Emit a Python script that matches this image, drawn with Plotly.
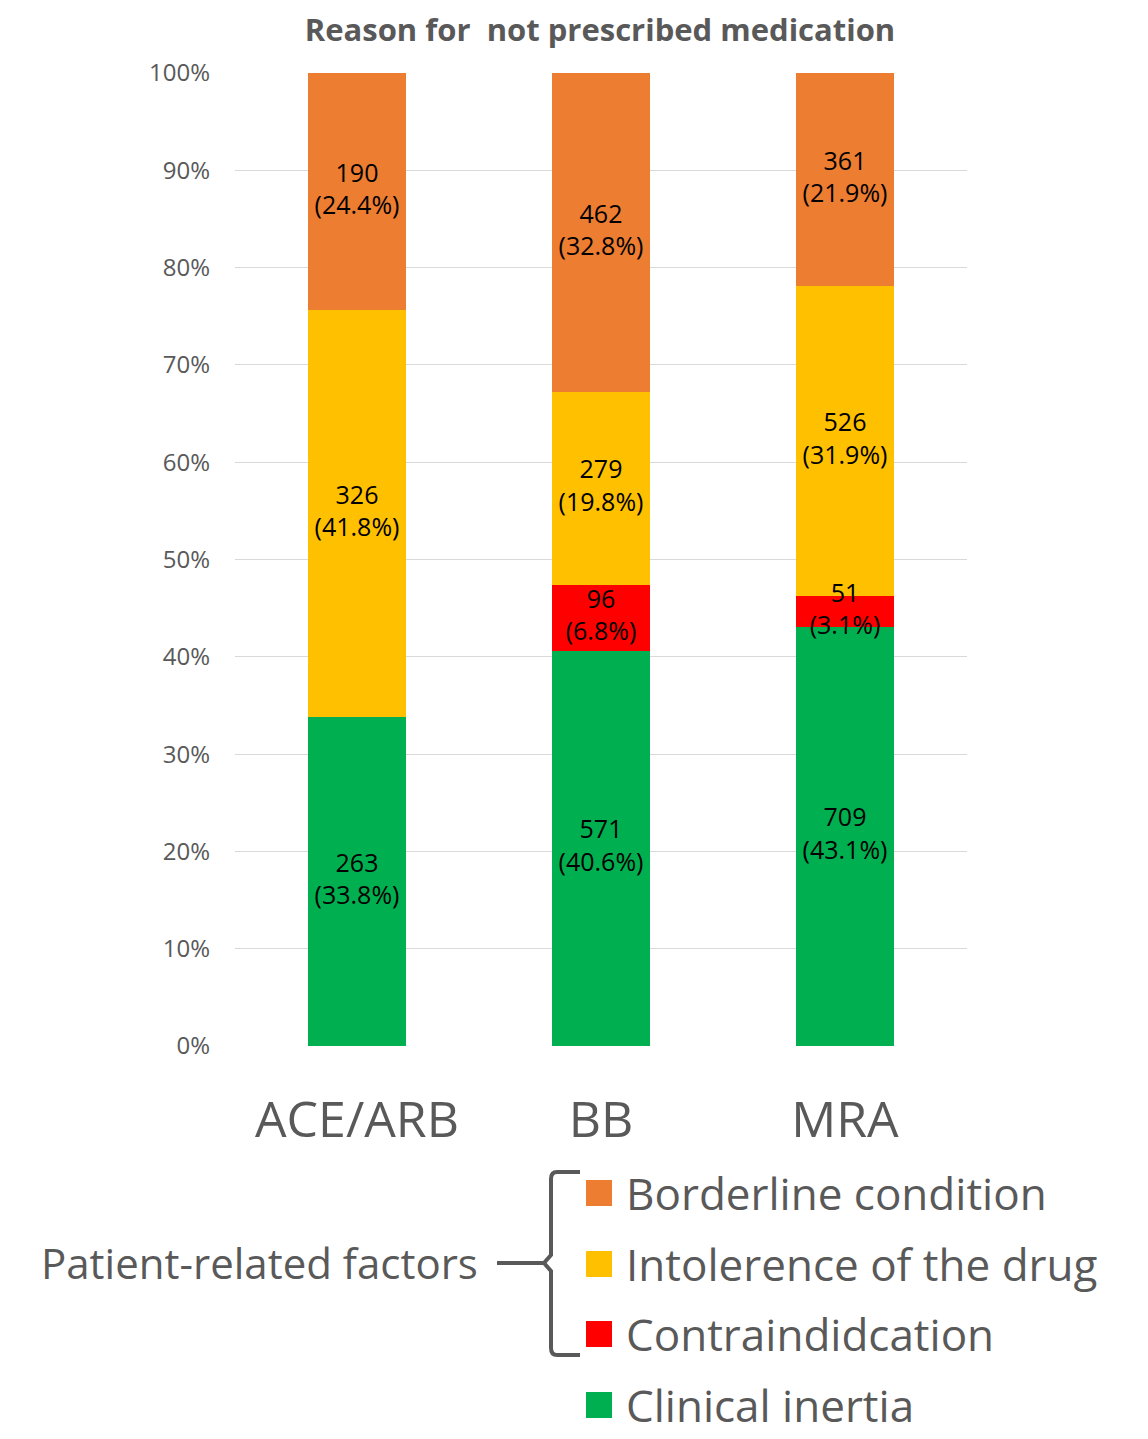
import plotly.graph_objects as go
import numpy as np

categories = ["ACE/ARB", "BB", "MRA"]
series_names = ["Clinical inertia", "Contraindidcation", "Intolerence of the drug", "Borderline condition"]
counts = {
    "Clinical inertia": [263, 571, 709],
    "Contraindidcation": [0, 96, 51],
    "Intolerence of the drug": [326, 279, 526],
    "Borderline condition": [190, 462, 361],
}
percents = {
    "Clinical inertia": [33.8, 40.6, 43.1],
    "Contraindidcation": [0.0, 6.8, 3.1],
    "Intolerence of the drug": [41.8, 19.8, 31.9],
    "Borderline condition": [24.4, 32.8, 21.9],
}
colors = {
    "Clinical inertia": "#00B050",
    "Contraindidcation": "#FF0000",
    "Intolerence of the drug": "#FFC000",
    "Borderline condition": "#ED7D31",
}
y_ticks = list(range(0, 101, 10))
y_tick_text = [f"{v}%" for v in y_ticks]

FONT = "Open Sans"
GRAY = "#595959"
W, H = 1148, 1439
L, R, T, B = 235, 181, 73, 393
PW, PH = W - L - R, H - T - B

def px(x):
    return (x - L) / PW

def py(y):
    return (H - B - y) / PH

fig = go.Figure()
base = np.zeros(len(categories))
lab_x, lab_y, lab_t = [], [], []
for name in series_names:
    vals = np.array(percents[name])
    fig.add_trace(go.Bar(
        x=categories, y=vals, name=name,
        marker=dict(color=colors[name], line=dict(width=0)),
        hoverinfo="skip", showlegend=False,
    ))
    for i, (c, p) in enumerate(zip(counts[name], percents[name])):
        if c > 0:
            lab_x.append(categories[i])
            lab_y.append(base[i] + p / 2)
            lab_t.append(f"{c}<br>({p}%)")
    base += vals

fig.add_trace(go.Scatter(
    x=lab_x, y=lab_y, text=lab_t, mode="text", textposition="middle center",
    textfont=dict(family=FONT, size=25, color="black"),
    hoverinfo="skip", showlegend=False, cliponaxis=False,
))

fig.update_layout(
    barmode="stack", bargap=0.6,
    width=W, height=H,
    margin=dict(l=L, r=R, t=T, b=B),
    paper_bgcolor="white", plot_bgcolor="white",
    title=dict(text="Reason for\u00a0 not prescribed medication", x=px(600), xref="paper",
               y=1 - 30 / H, yref="container", xanchor="center", yanchor="middle",
               font=dict(family=FONT, size=31, color=GRAY, weight="bold")),
)
fig.update_yaxes(range=[0, 100], tickmode="array", tickvals=y_ticks, ticktext=y_tick_text,
                 showgrid=True, gridcolor="#D9D9D9", gridwidth=1,
                 zeroline=False, showline=False,
                 tickfont=dict(family=FONT, size=24, color=GRAY), ticklabelstandoff=24)
fig.update_xaxes(showline=False, showgrid=False,
                 tickfont=dict(family=FONT, size=50, color=GRAY), ticklabelstandoff=40)

# custom legend
legend_order = ["Borderline condition", "Intolerence of the drug", "Contraindidcation", "Clinical inertia"]
legend_y = [1193, 1264, 1334, 1405]
shapes = []
annotations = []
for name, yy in zip(legend_order, legend_y):
    shapes.append(dict(type="rect", xref="paper", yref="paper",
                       x0=px(586), x1=px(612), y0=py(yy + 13), y1=py(yy - 13),
                       fillcolor=colors[name], line=dict(width=0)))
    annotations.append(dict(text=name, xref="paper", yref="paper", x=px(624), y=py(yy),
                            xanchor="left", yanchor="middle", showarrow=False,
                            font=dict(family=FONT, size=44, color=GRAY)))

annotations.append(dict(text="Patient-related factors", xref="paper", yref="paper",
                        x=px(480), y=py(1262), xanchor="right", yanchor="middle", showarrow=False,
                        font=dict(family=FONT, size=42, color=GRAY)))

def pt(x, y):
    return f"{px(x)},{py(y)}"

brace = (f"M {pt(580,1172)} L {pt(557,1172)} Q {pt(551,1172)} {pt(551,1179)} "
         f"L {pt(551,1255)} L {pt(544,1263)} L {pt(551,1271)} "
         f"L {pt(551,1348)} Q {pt(551,1355)} {pt(557,1355)} L {pt(580,1355)}")
shapes.append(dict(type="path", xref="paper", yref="paper", path=brace,
                   line=dict(color=GRAY, width=4)))
shapes.append(dict(type="line", xref="paper", yref="paper",
                   x0=px(497), x1=px(545), y0=py(1263), y1=py(1263),
                   line=dict(color=GRAY, width=4)))

fig.update_layout(shapes=shapes, annotations=annotations)
fig.write_html("out.html")
